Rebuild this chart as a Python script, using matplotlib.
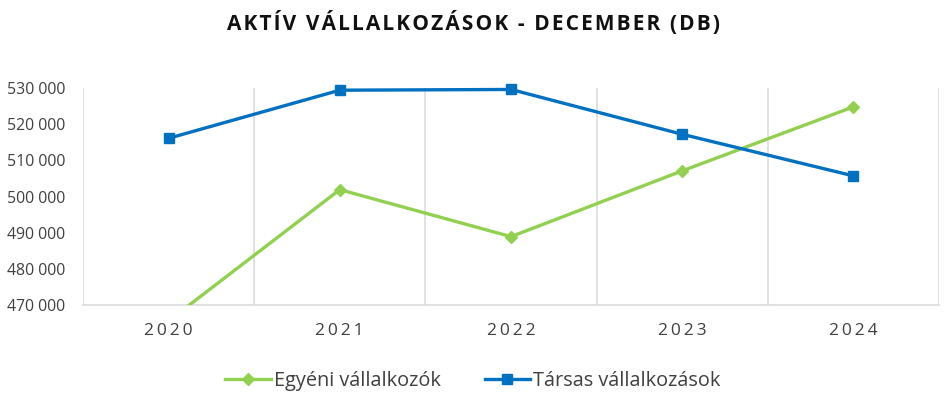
import matplotlib
matplotlib.use("Agg")
import matplotlib.pyplot as plt
from matplotlib.ticker import FuncFormatter

# Data
years = ["2020", "2021", "2022", "2023", "2024"]
egyeni = [465600, 501900, 488900, 507100, 524800]
tarsas = [516100, 529400, 529600, 517200, 505700]

GREEN = "#92D050"
BLUE = "#0070C0"
GRID = "#D9D9D9"
TEXT = "#404040"

plt.rcParams['font.family'] = ['Open Sans', 'DejaVu Sans']

fig = plt.figure(figsize=(9.46, 3.99), dpi=100)
ax = fig.add_axes([0.0877, 0.2356, 0.905, 0.5438])

x = list(range(len(years)))
ax.plot(x, egyeni, color=GREEN, lw=2.4, marker="D", ms=6.5,
        label="Egyéni vállalkozók", clip_on=True, zorder=3)
ax.plot(x, tarsas, color=BLUE, lw=2.4, marker="s", ms=7.5,
        label="Társas vállalkozások", clip_on=False, zorder=4)

ax.set_xlim(-0.5, len(years) - 0.5)
ax.set_ylim(470000, 530000)
ax.set_yticks(range(470000, 530001, 10000))
ax.yaxis.set_major_formatter(FuncFormatter(lambda v, p: f"{int(v):,}".replace(",", " ")))

# vertical gridlines sit between categories (Excel style)
for b in [i - 0.5 for i in range(len(years) + 1)]:
    ax.axvline(b, color=GRID, lw=1.1, zorder=1)

ax.set_xticks(x)
ax.set_xticklabels(["\u2009".join(y) for y in years])
ax.tick_params(axis="x", length=0, pad=13, labelsize=12.5, labelcolor=TEXT)
ax.tick_params(axis="y", length=0, pad=13, labelsize=11.4, labelcolor=TEXT)

for s in ["top", "right", "left"]:
    ax.spines[s].set_visible(False)
ax.spines["bottom"].set_color(GRID)
ax.spines["bottom"].set_linewidth(1.1)

title = "AKTÍV VÁLLALKOZÁSOK - DECEMBER (DB)"
fig.text(0.5, 0.942, "\u200a".join(title), ha="center", va="center",
         fontsize=15, fontweight="bold", family=["Open Sans", "DejaVu Sans"], color="#111111")

fig.legend(loc="center", bbox_to_anchor=(0.5, 0.046), ncol=2, frameon=False,
           fontsize=14.3, handlelength=2.3, handletextpad=0.15, columnspacing=2.2,
           labelcolor=TEXT)

fig.savefig("out.png", dpi=100)
